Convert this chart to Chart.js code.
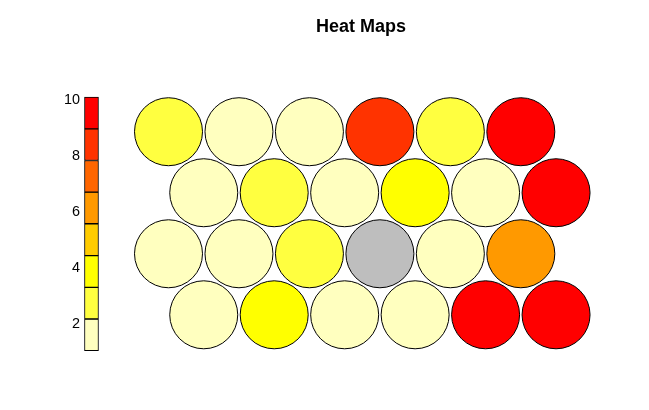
<!DOCTYPE html>
<html>
<head>
<meta charset="utf-8">
<script src="https://cdn.jsdelivr.net/npm/chart.js@4/dist/chart.umd.min.js"></script>
<style>
html,body{margin:0;padding:0;background:#fff;}
#wrap{width:649px;height:410px;}
</style>
</head>
<body>
<div id="wrap"><canvas id="c" width="649" height="410"></canvas></div>
<script>
// SOM grid: 6 columns x 4 rows (hexagonal), units listed bottom row first, left to right
const gridCols = 6;
const gridRows = 4;
const unitValues = [
  1.5, 4.0, 1.5, 1.5, 9.8, 9.9,     // row 1 (bottom)
  1.5, 1.5, 3.0, null, 1.5, 6.0,    // row 2
  1.5, 3.0, 1.5, 4.0, 1.5, 9.9,     // row 3
  3.0, 1.5, 1.5, 8.5, 3.0, 10.0     // row 4 (top)
];
// colour key: breaks and heat colours (low -> high)
const keyBreaks = [1.05, 2.18, 3.31, 4.44, 5.58, 6.71, 7.84, 8.97, 10.1];
const keyColors = ['#FFFFBF', '#FFFF40', '#FFFF00', '#FFCC00', '#FF9900', '#FF6600', '#FF3300', '#FF0000'];
const keyTicks = [2, 4, 6, 8, 10];
const naColor = '#BEBEBE';
const titleText = 'Heat Maps';

function colorFor(v) {
  if (v === null || v === undefined) return naColor;
  for (let i = 0; i < keyColors.length; i++) {
    if (v <= keyBreaks[i + 1]) return keyColors[i];
  }
  return keyColors[keyColors.length - 1];
}

const h = Math.sqrt(3) / 2;
const bubblePts = unitValues.map((v, k) => {
  const row = Math.floor(k / gridCols) + 1;
  const col = (k % gridCols) + 1;
  return { x: col + (row % 2 === 1 ? 0.5 : 0), y: row * h, r: 34 };
});
const bubbleColors = unitValues.map(colorFor);

const keyBars = keyColors.map((c, i) => ({ x: -0.093, y: [keyBreaks[i], keyBreaks[i + 1]] }));

new Chart(document.getElementById('c'), {
  type: 'bubble',
  data: {
    datasets: [
      {
        type: 'bubble',
        data: bubblePts,
        backgroundColor: bubbleColors,
        borderColor: '#000',
        borderWidth: 1,
        clip: false,
        xAxisID: 'x',
        yAxisID: 'y'
      },
      {
        type: 'bar',
        data: keyBars,
        backgroundColor: keyColors,
        borderColor: '#000',
        borderWidth: 1,
        borderSkipped: false,
        barThickness: 14,
        grouped: false,
        xAxisID: 'x',
        yAxisID: 'yLeg'
      }
    ]
  },
  options: {
    responsive: false,
    animation: false,
    events: [],
    layout: { autoPadding: false, padding: { left: 0, right: 11, top: 0, bottom: 30 } },
    plugins: {
      legend: { display: false },
      tooltip: { enabled: false },
      title: {
        display: true,
        text: titleText,
        fullSize: false,
        color: '#000',
        font: { family: 'Liberation Sans, Arial, sans-serif', size: 18, weight: 'bold' },
        padding: { top: 16.5, bottom: 21.9 }
      }
    },
    scales: {
      x: { type: 'linear', display: false, offset: false, grid: { offset: false }, min: -0.1993, max: 7.663 },
      y: { type: 'linear', display: false, offset: false, min: -0.0594, max: 4.482 },
      yLeg: {
        type: 'linear',
        position: 'left',
        offset: false,
        min: 0,
        max: 11.4286,
        grid: { display: false, drawTicks: false },
        border: { display: false },
        afterFit: (s) => { s.width = 84; },
        afterBuildTicks: (s) => { s.ticks = keyTicks.map(v => ({ value: v })); },
        ticks: {
          color: '#000',
          padding: 4,
          font: { family: 'Liberation Sans, Arial, sans-serif', size: 14.4 },
          callback: (v) => String(v)
        }
      }
    }
  }
});
</script>
</body>
</html>
